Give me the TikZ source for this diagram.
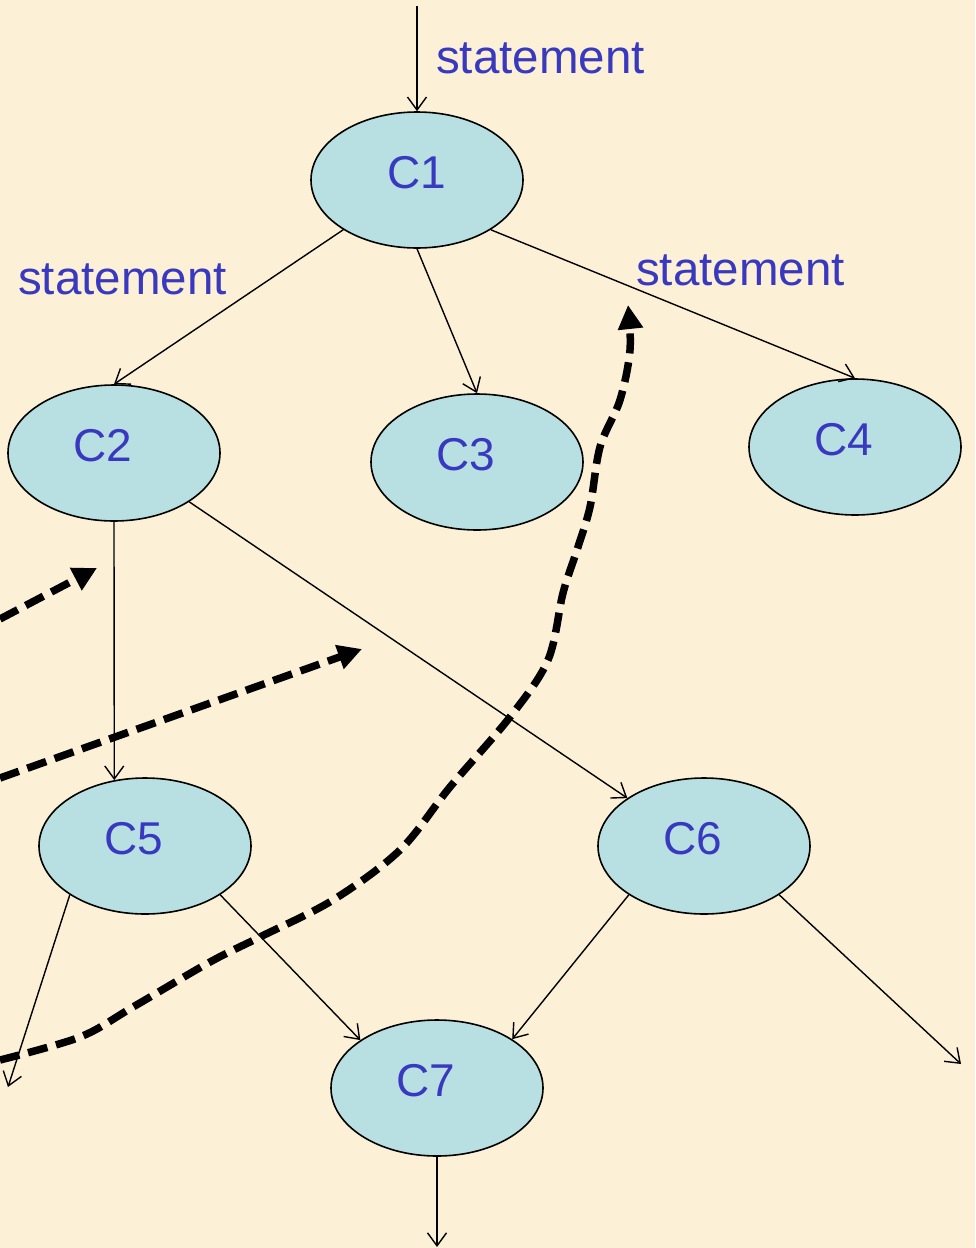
\documentclass[tikz,border=0pt]{standalone}
\usepackage{fontspec}
\setmainfont{Liberation Sans}
\usetikzlibrary{arrows.meta,shapes.geometric}
\definecolor{paper}{RGB}{252,240,214}
\definecolor{cellfill}{RGB}{184,224,226}
\definecolor{ink}{RGB}{57,57,192}
\begin{document}
\begin{tikzpicture}[x=1pt,y=-1pt,
  cell/.style={ellipse,draw=black,line width=1.6pt,fill=cellfill,
    minimum width=212pt,minimum height=136pt,inner sep=0pt},
  celltext/.style={text=ink,font=\fontsize{46}{50}\selectfont,inner sep=0pt},
  stmt/.style={text=ink,font=\fontsize{47.5}{52}\selectfont,inner sep=0pt,anchor=base west},
  flow/.style={line width=1.4pt,-{Straight Barb[length=13pt,width=19pt]}},
  cut/.style={line width=7.5pt,dash pattern=on 20pt off 9pt,
    -{Triangle[length=24pt,width=24pt]}}
]
% paper background
\fill[paper] (0,0) rectangle (975,1248);
\useasboundingbox (0,0) rectangle (975,1248);

% cells
\node[cell,label={[celltext,shift={(0,-7)}]center:C1}] (c1) at (417,180) {};
\node[cell,label={[celltext,shift={(-11,-7)}]center:C2}] (c2) at (114,453) {};
\node[cell,label={[celltext,shift={(-11,-7)}]center:C3}] (c3) at (477,462) {};
\node[cell,label={[celltext,shift={(-11,-7)}]center:C4}] (c4) at (855,447) {};
\node[cell,label={[celltext,shift={(-11,-7)}]center:C5}] (c5) at (145,846) {};
\node[cell,label={[celltext,shift={(-11,-7)}]center:C6}] (c6) at (704,846) {};
\node[cell,label={[celltext,shift={(-11,-7)}]center:C7}] (c7) at (437,1088) {};

% statement labels
\node[stmt] (s1) at (436,73) {statement};
\node[stmt] (s2) at (18,294) {statement};
\node[stmt] (s3) at (636,285) {statement};

% free ends of the flow
\coordinate (top) at (417,6);
\coordinate (outl) at (8,1087);
\coordinate (outr) at (961,1064);
\coordinate (bot) at (437,1247);

% flow edges
\draw[flow] (top) -- (c1.north);
\draw[flow] (c1.214) -- (c2.north);
\draw[flow] (c1.south) -- (c3.north);
\draw[flow] (c1.326) -- (c4.north);
\draw[flow] (c2.south) -- (c5.115);
\draw[flow] (c2.327) -- (c6.148);
\draw[flow] (c5.213) -- (outl);
\draw[flow] (c5.327) -- (c7.148);
\draw[flow] (c6.213) -- (c7.33);
\draw[flow] (c6.327) -- (outr);
\draw[flow] (c7.south) -- (bot);

% dashed cut arrows
\coordinate (a1s) at (0,619);
\coordinate (a1e) at (97,568);
\coordinate (a2s) at (0,778);
\coordinate (a2e) at (362,649);
\draw[cut] (a1s) -- (a1e);
\draw[cut] (a2s) -- (a2e);
\draw[cut] plot[smooth,tension=0.55] coordinates {
  (0,1060) (80,1037) (133,1007) (210,962) (260,937) (333,900) (400,850)
  (450,787) (510,717) (548,660) (563,593) (577,550) (590,507) (600,447)
  (620,400) (630,350) (628,305)};
\end{tikzpicture}
\end{document}
